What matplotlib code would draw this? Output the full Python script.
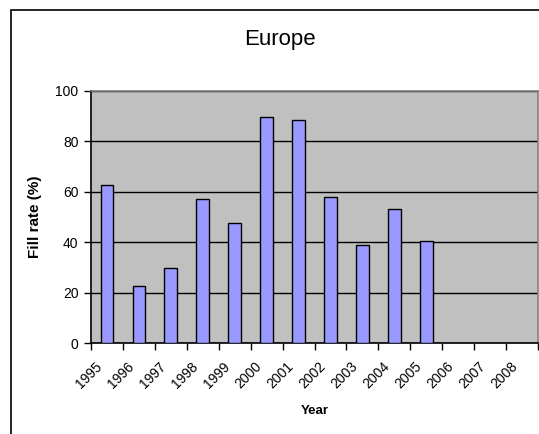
import matplotlib
matplotlib.use("Agg")
import matplotlib.pyplot as plt
from matplotlib.patches import Rectangle
from matplotlib.transforms import ScaledTranslation
import numpy as np

years = ["1995", "1996", "1997", "1998", "1999", "2000", "2001",
         "2002", "2003", "2004", "2005", "2006", "2007", "2008"]
fill_rate = [62.5, 22.5, 30.0, 57.3, 47.5, 89.5, 88.4,
             57.8, 39.0, 53.2, 40.4, None, None, None]

plt.rcParams["font.family"] = ["Liberation Sans", "DejaVu Sans"]

W, H = 539, 434
fig = plt.figure(figsize=(W / 100, H / 100), dpi=100)

# chart-area frame (extends past the right and bottom edges)
fig.patches.append(Rectangle((10.5 / W, -0.1), 1.2, 1 - 10.5 / H + 0.1,
                             transform=fig.transFigure, fill=False,
                             edgecolor="black", linewidth=1.2))

ax = fig.add_axes([91 / W, 1 - 343.3 / H, (538 - 91) / W, (343.3 - 90.7) / H])
ax.set_facecolor("#C0C0C0")

n = len(years)
x = np.arange(n) + 0.5
vals = [v if v is not None else 0 for v in fill_rate]
mask = [v is not None for v in fill_rate]
ax.bar(x[mask], np.array(vals)[mask], width=0.4, color="#9999FF",
       edgecolor="black", linewidth=1.0, zorder=3)

ax.set_xlim(0, n)
ax.set_ylim(0, 100)
ax.set_yticks([0, 20, 40, 60, 80, 100])
ax.yaxis.grid(True, color="black", linewidth=1.0, zorder=1)
ax.set_axisbelow(True)

# category boundaries get tick marks, labels sit at category centres
ax.set_xticks(np.arange(n + 1))
ax.set_xticklabels([])
ax.set_xticks(x, minor=True)
ax.set_xticklabels(years, minor=True, rotation=45, ha="right", va="top",
                   rotation_mode="anchor", fontsize=10)
ax.tick_params(axis="x", which="minor", length=0, pad=11.5)
ax.tick_params(axis="x", which="major", length=5, width=1, direction="out")
ax.tick_params(axis="y", length=5, width=1, direction="out", labelsize=10, pad=4)
shift = ScaledTranslation(-12 / 100, 0, fig.dpi_scale_trans)
for lab in ax.get_xticklabels(minor=True):
    lab.set_transform(lab.get_transform() + shift)

for s in ["top", "right"]:
    ax.spines[s].set_color("#808080")
    ax.spines[s].set_linewidth(1.2)
for s in ["left", "bottom"]:
    ax.spines[s].set_color("black")
    ax.spines[s].set_linewidth(1.2)

fig.text(35.5 / W, 1 - 216.5 / H, "Fill rate (%)", fontsize=11, fontweight="bold",
         rotation=90, ha="center", va="center")
fig.text(314.5 / W, 1 - 410.7 / H, "Year", fontsize=9.5, fontweight="bold",
         ha="center", va="center")
fig.text(279.5 / W, 1 - 39.5 / H, "Europe", fontsize=16,
         ha="center", va="center")

fig.savefig("out.png", dpi=100)
